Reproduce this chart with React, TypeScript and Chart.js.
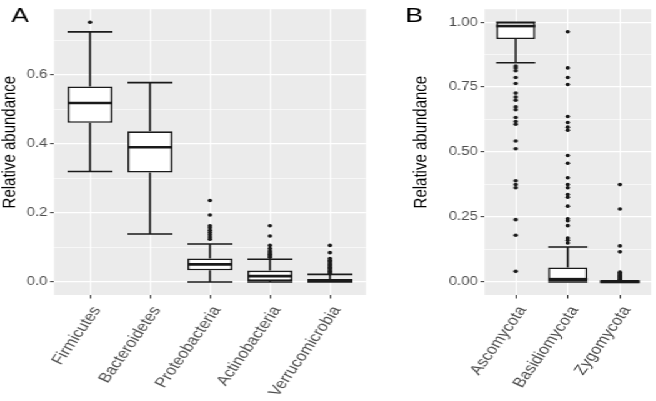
import React, { useEffect, useRef } from "react";
import { Chart, registerables } from "chart.js";

Chart.register(...registerables);

// ---------- Data: panel A (bacteria) ----------
const bacteriaCategories = ["Firmicutes", "Bacteroidetes", "Proteobacteria", "Actinobacteria", "Verrucomicrobia"];
const bacteriaLower = [0.32, 0.139, 0.0, 0.0, 0.0];
const bacteriaQ1 = [0.461, 0.317, 0.034, 0.003, 0.0];
const bacteriaMedian = [0.518, 0.39, 0.051, 0.017, 0.004];
const bacteriaQ3 = [0.566, 0.436, 0.068, 0.033, 0.009];
const bacteriaUpper = [0.724, 0.577, 0.11, 0.066, 0.022];
const bacteriaOutliers = [
  [0.752],
  [],
  [0.236, 0.194, 0.163, 0.157, 0.15, 0.143, 0.137, 0.13, 0.124],
  [0.163, 0.133, 0.106, 0.097, 0.09, 0.085, 0.08, 0.076, 0.072],
  [0.106, 0.085, 0.068, 0.063, 0.059, 0.055, 0.051, 0.047, 0.043, 0.039, 0.035, 0.031, 0.027, 0.024],
];
const bacteriaMajorTicks = [0, 0.2, 0.4, 0.6];
const bacteriaMajorLabels = ["0.0", "0.2", "0.4", "0.6"];
const bacteriaMinorTicks = [0.1, 0.3, 0.5, 0.7];

// ---------- Data: panel B (fungi) ----------
const fungiCategories = ["Ascomycota", "Basidiomycota", "Zygomycota"];
const fungiLower = [0.844, 0.0, 0.0];
const fungiQ1 = [0.935, 0.0, 0.0];
const fungiMedian = [0.985, 0.011, 0.0];
const fungiQ3 = [1.0, 0.056, 0.002];
const fungiUpper = [1.0, 0.135, 0.005];
const fungiOutliers = [
  [0.831, 0.824, 0.813, 0.787, 0.764, 0.727, 0.712, 0.7, 0.674, 0.663, 0.633, 0.618, 0.607, 0.543, 0.513, 0.39, 0.375, 0.363, 0.24, 0.18, 0.041],
  [0.963, 0.824, 0.787, 0.76, 0.637, 0.614, 0.596, 0.584, 0.487, 0.457, 0.401, 0.375, 0.363, 0.337, 0.326, 0.292, 0.243, 0.236, 0.217, 0.169, 0.161, 0.15],
  [0.375, 0.281, 0.139, 0.116, 0.038, 0.033, 0.028, 0.024, 0.02, 0.016, 0.012, 0.009, 0.006],
];
const fungiMajorTicks = [0, 0.25, 0.5, 0.75, 1.0];
const fungiMajorLabels = ["0.00", "0.25", "0.50", "0.75", "1.00"];
const fungiMinorTicks = [0.125, 0.375, 0.625, 0.875];

const yAxisTitle = "Relative abundance";

// ---------- Styling ----------
const SX = 1.25; // horizontal stretch of the original figure
const FONT = "'Liberation Sans', Arial, Helvetica, sans-serif";
const PANEL_BG = "#EBEBEB";
const INK = "#1a1a1a";

type PanelSpec = {
  label: string;
  labelX: number;
  titleX: number;
  categories: string[];
  lower: number[];
  q1: number[];
  median: number[];
  q3: number[];
  upper: number[];
  outliers: number[][];
  majorTicks: number[];
  majorLabels: string[];
  minorTicks: number[];
  padLeft: number;
  padRight: number;
  yWidth: number;
};

function isIn(list: number[], v: number) {
  return list.some((m) => Math.abs(m - v) < 1e-9);
}

function makeConfig(p: PanelSpec): any {
  const all = [...p.lower, ...p.upper, ...p.outliers.flat()];
  const dMin = Math.min(...all);
  const dMax = Math.max(...all);
  const span = dMax - dMin;
  const yMin = dMin - 0.05 * span;
  const yMax = dMax + 0.05 * span;
  const n = p.categories.length;

  const decor = {
    id: "boxDecor" + p.label,
    beforeDraw(chart: any) {
      const { ctx, chartArea } = chart;
      ctx.save();
      ctx.fillStyle = PANEL_BG;
      ctx.fillRect(chartArea.left, chartArea.top, chartArea.right - chartArea.left, chartArea.bottom - chartArea.top);
      ctx.restore();
    },
    afterDatasetsDraw(chart: any) {
      const { ctx } = chart;
      const xs = chart.scales.x;
      const ys = chart.scales.y;
      const meta = chart.getDatasetMeta(0);
      ctx.save();
      ctx.strokeStyle = INK;
      for (let i = 0; i < n; i++) {
        const xc = xs.getPixelForValue(i);
        const half = (meta.data[i] as any).width / 2;
        const yU = ys.getPixelForValue(p.upper[i]);
        const yL = ys.getPixelForValue(p.lower[i]);
        const yQ1 = ys.getPixelForValue(p.q1[i]);
        const yQ3 = ys.getPixelForValue(p.q3[i]);
        const yM = ys.getPixelForValue(p.median[i]);
        ctx.lineWidth = 1.6;
        ctx.beginPath();
        ctx.moveTo(xc, yQ3);
        ctx.lineTo(xc, yU);
        ctx.moveTo(xc, yQ1);
        ctx.lineTo(xc, yL);
        ctx.moveTo(xc - half, yU);
        ctx.lineTo(xc + half, yU);
        ctx.moveTo(xc - half, yL);
        ctx.lineTo(xc + half, yL);
        ctx.stroke();
        ctx.lineWidth = 2.6;
        ctx.beginPath();
        ctx.moveTo(xc - half, yM);
        ctx.lineTo(xc + half, yM);
        ctx.stroke();
      }
      ctx.restore();
    },
    afterDraw(chart: any) {
      const { ctx, chartArea } = chart;
      ctx.save();
      ctx.fillStyle = "#000";
      ctx.font = `21px ${FONT}`;
      ctx.textAlign = "center";
      ctx.textBaseline = "middle";
      ctx.fillText(p.label, p.labelX, 16);
      ctx.restore();

      ctx.save();
      ctx.fillStyle = "#000";
      ctx.font = `15px ${FONT}`;
      ctx.textAlign = "center";
      ctx.textBaseline = "middle";
      ctx.translate(p.titleX, (chartArea.top + chartArea.bottom) / 2 - 10);
      ctx.rotate(-Math.PI / 2);
      ctx.fillText(yAxisTitle, 0, 0);
      ctx.restore();
    },
  };

  const allTicks = [...p.majorTicks, ...p.minorTicks].sort((a, b) => a - b);

  return {
    type: "bar",
    data: {
      datasets: [
        {
          type: "bar",
          data: p.categories.map((_, i) => ({ x: i, y: [p.q1[i], p.q3[i]] })),
          backgroundColor: "#FFFFFF",
          borderColor: INK,
          borderWidth: 1.6,
          borderSkipped: false,
          barPercentage: 0.75,
          categoryPercentage: 1.0,
          order: 2,
        },
        {
          type: "scatter",
          data: p.outliers.flatMap((arr, i) => arr.map((v) => ({ x: i, y: v }))),
          backgroundColor: INK,
          borderColor: INK,
          pointRadius: 1.8,
          pointBorderWidth: 0,
          showLine: false,
          order: 1,
        },
      ],
    },
    options: {
      responsive: false,
      animation: false,
      events: [],
      layout: { padding: { top: 2, left: p.padLeft, right: p.padRight, bottom: 0 } },
      plugins: { legend: { display: false }, tooltip: { enabled: false } },
      scales: {
        x: {
          type: "linear",
          offset: false,
          min: -0.6,
          max: n - 1 + 0.6,
          afterBuildTicks: (s: any) => {
            s.ticks = p.categories.map((_, i) => ({ value: i }));
          },
          afterFit: (s: any) => {
            s.height = 106;
            s.paddingLeft = 0;
            s.paddingRight = 0;
          },
          ticks: {
            autoSkip: false,
            minRotation: 60,
            maxRotation: 60,
            padding: 5,
            labelOffset: 5.5,
            color: "#4D4D4D",
            font: { family: FONT, size: 14 },
            callback: (v: number) => p.categories[Math.round(v)] ?? "",
          },
          grid: {
            color: "#FFFFFF",
            lineWidth: 1.0,
            offset: false,
            drawTicks: true,
            tickLength: 3.5,
            tickColor: "#333333",
            tickWidth: 1,
          },
          border: { display: false },
        },
        y: {
          type: "linear",
          min: yMin,
          max: yMax,
          afterBuildTicks: (s: any) => {
            s.ticks = allTicks.map((v) => ({ value: v }));
          },
          afterFit: (s: any) => {
            s.width = p.yWidth;
          },
          ticks: {
            padding: 2,
            color: "#4D4D4D",
            font: { family: FONT, size: 12 },
            callback: (v: number) => {
              const k = p.majorTicks.findIndex((m) => Math.abs(m - v) < 1e-9);
              return k >= 0 ? p.majorLabels[k] : "";
            },
          },
          grid: {
            color: "#FFFFFF",
            lineWidth: (c: any) => (isIn(p.majorTicks, c.tick.value) ? 1.3 : 0.6),
            drawTicks: true,
            tickLength: 3.2,
            tickColor: (c: any) => (isIn(p.majorTicks, c.tick.value) ? "#333333" : "rgba(0,0,0,0)"),
            tickWidth: 1,
          },
          border: { display: false },
          title: { display: false },
        },
      },
    },
    plugins: [decor],
  };
}

const panelA: PanelSpec = {
  label: "A",
  labelX: 16,
  titleX: 7.4,
  categories: bacteriaCategories,
  lower: bacteriaLower,
  q1: bacteriaQ1,
  median: bacteriaMedian,
  q3: bacteriaQ3,
  upper: bacteriaUpper,
  outliers: bacteriaOutliers,
  majorTicks: bacteriaMajorTicks,
  majorLabels: bacteriaMajorLabels,
  minorTicks: bacteriaMinorTicks,
  padLeft: 0,
  padRight: 12.2,
  yWidth: 43.2,
};

const panelB: PanelSpec = {
  label: "B",
  labelX: 26.2,
  titleX: 31.8,
  categories: fungiCategories,
  lower: fungiLower,
  q1: fungiQ1,
  median: fungiMedian,
  q3: fungiQ3,
  upper: fungiUpper,
  outliers: fungiOutliers,
  majorTicks: fungiMajorTicks,
  majorLabels: fungiMajorLabels,
  minorTicks: fungiMinorTicks,
  padLeft: 24.8,
  padRight: 0.5,
  yWidth: 57.4,
};

function Panel({ spec, left, width }: { spec: PanelSpec; left: number; width: number }) {
  const ref = useRef<HTMLCanvasElement | null>(null);
  useEffect(() => {
    if (!ref.current) return;
    const chart = new Chart(ref.current, makeConfig(spec));
    return () => chart.destroy();
  }, [spec]);
  return (
    <canvas
      ref={ref}
      width={width}
      height={401}
      style={{ position: "absolute", left, top: 0, width: `${width}px`, height: "401px" }}
    />
  );
}

export default function App() {
  const logicalWidth = 656 / SX;
  return (
    <div
      style={{
        position: "absolute",
        left: 0,
        top: 0,
        width: `${logicalWidth}px`,
        height: "401px",
        transform: `scaleX(${SX})`,
        transformOrigin: "0 0",
        background: "#FFFFFF",
      }}
    >
      <Panel spec={panelA} left={0} width={305} />
      <Panel spec={panelB} left={305} width={logicalWidth - 305} />
    </div>
  );
}
